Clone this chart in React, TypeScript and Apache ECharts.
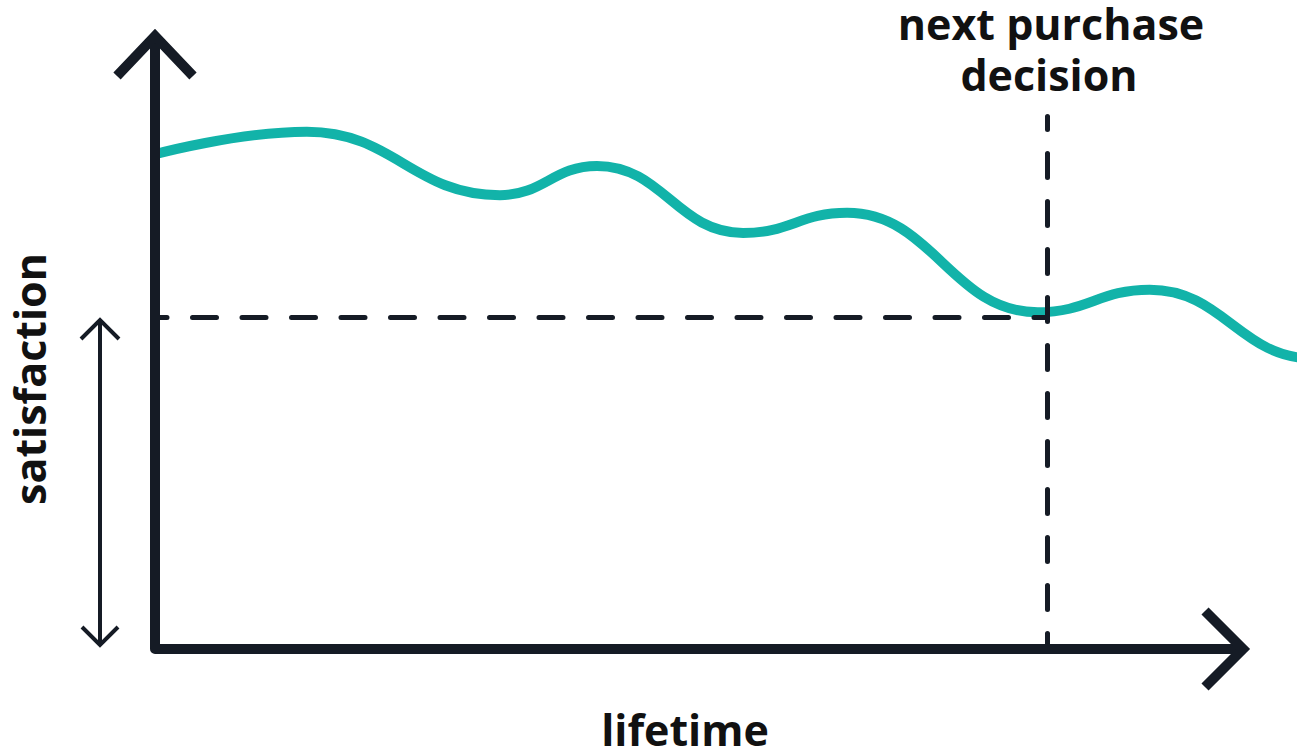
import React, { useEffect, useRef } from "react";
import * as echarts from "echarts";

// Curve extrema (lifetime 0..100 across the plot, satisfaction 0..100 up the plot)
const lifetime = [0, 13.3, 30.2, 38.7, 51.5, 60.6, 77.3, 87.1, 101.5, 112];
const satisfaction = [81.1, 84.8, 74.4, 79.2, 68.2, 71.5, 55.2, 58.9, 47.6, 50.5];

// Next purchase decision marker
const decisionLifetime = 78.1;
const decisionSatisfaction = 54.4;
const decisionLineTop = 87.3;

const xLabel = "lifetime";
const yLabel = "satisfaction";
const decisionLabel = ["next purchase", "decision"];

const DARK = "#151b25";
const TEAL = "#12b3a9";
const TEXT = "#111111";

export default function App() {
  const ref = useRef<HTMLDivElement>(null);

  useEffect(() => {
    const chart = echarts.init(ref.current!, null, { renderer: "svg" });
    const L = 155;
    const T = 39;
    const H = 752;
    const B = 649;
    const font = '"Open Sans", sans-serif';
    const textFont = `bold 43px ${font}`;

    chart.setOption({
      animation: false,
      grid: { left: L, right: 0, top: T, bottom: H - B },
      xAxis: { type: "value", min: 0, max: 100, show: false },
      yAxis: { type: "value", min: 0, max: 100, show: false },
      series: [
        {
          type: "line",
          data: lifetime.map((x, i) => [x, satisfaction[i]]),
          smooth: 0.45,
          smoothMonotone: "x",
          showSymbol: false,
          symbol: "none",
          clip: true,
          lineStyle: { color: TEAL, width: 10, cap: "round" },
          z: 2,
          markLine: {
            silent: true,
            symbol: ["none", "none"],
            label: { show: false },
            z: 5,
            data: [
              [
                {
                  coord: [0, decisionSatisfaction],
                  lineStyle: {
                    color: DARK,
                    width: 5,
                    type: [24, 25.5],
                    dashOffset: 11.5,
                    cap: "round",
                  },
                },
                { coord: [decisionLifetime, decisionSatisfaction] },
              ],
              [
                {
                  coord: [decisionLifetime, decisionLineTop],
                  lineStyle: {
                    color: DARK,
                    width: 5,
                    type: [24, 24],
                    dashOffset: 11,
                    cap: "round",
                  },
                },
                { coord: [decisionLifetime, 0] },
              ],
            ],
          },
        },
      ],
      graphic: [
        {
          type: "polyline",
          z: 100,
          shape: { points: [[L, 36], [L, B], [1243, B]] },
          style: { stroke: DARK, lineWidth: 10, fill: null, lineJoin: "round" },
        },
        {
          type: "polyline",
          z: 100,
          shape: { points: [[117, 76], [L, 36], [193, 76]] },
          style: { stroke: DARK, lineWidth: 10, fill: null, lineJoin: "miter", miterLimit: 10, lineCap: "butt" },
        },
        {
          type: "polyline",
          z: 100,
          shape: { points: [[1205, 611], [1243, B], [1205, 687]] },
          style: { stroke: DARK, lineWidth: 10, fill: null, lineJoin: "miter", miterLimit: 10, lineCap: "butt" },
        },
        {
          type: "line",
          z: 100,
          shape: { x1: 100, y1: 320, x2: 100, y2: 645 },
          style: { stroke: DARK, lineWidth: 4 },
        },
        {
          type: "polyline",
          z: 100,
          shape: { points: [[81, 339], [100, 320], [119, 339]] },
          style: { stroke: DARK, lineWidth: 4, fill: null, lineJoin: "miter", miterLimit: 10 },
        },
        {
          type: "polyline",
          z: 100,
          shape: { points: [[82, 627], [100, 645], [118, 627]] },
          style: { stroke: DARK, lineWidth: 4, fill: null, lineJoin: "miter", miterLimit: 10 },
        },
        {
          type: "text",
          z: 100,
          x: 685,
          y: 729,
          style: {
            text: xLabel,
            fill: TEXT,
            font: textFont,
            align: "center",
            verticalAlign: "middle",
          },
        },
        {
          type: "text",
          z: 100,
          x: 29,
          y: 379,
          rotation: Math.PI / 2,
          style: {
            text: yLabel,
            fill: TEXT,
            font: textFont,
            align: "center",
            verticalAlign: "middle",
          },
        },
        {
          type: "text",
          z: 100,
          x: 1051,
          y: 23,
          style: {
            text: decisionLabel[0],
            fill: TEXT,
            font: textFont,
            align: "center",
            verticalAlign: "middle",
          },
        },
        {
          type: "text",
          z: 100,
          x: 1049,
          y: 74,
          style: {
            text: decisionLabel[1],
            fill: TEXT,
            font: textFont,
            align: "center",
            verticalAlign: "middle",
          },
        },
      ],
    });

    return () => chart.dispose();
  }, []);

  return (
    <div
      ref={ref}
      style={{ position: "absolute", left: 0, top: 0, width: 1297, height: 752 }}
    />
  );
}
